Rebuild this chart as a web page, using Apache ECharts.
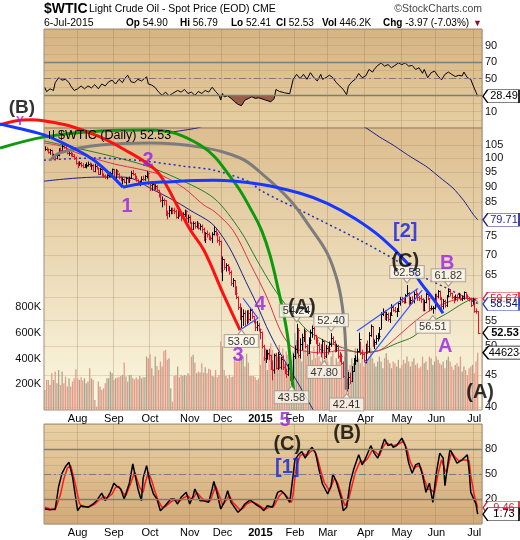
<!DOCTYPE html>
<html><head><meta charset="utf-8">
<script src="https://cdn.jsdelivr.net/npm/echarts/dist/echarts.min.js"></script>
<style>html,body{margin:0;padding:0;background:#fff}#c{width:520px;height:540px}</style>
</head><body><div id="c"></div>
<script>
// ---------------- DATA ----------------
const holidays = ['2014-09-01','2014-11-27','2014-12-25','2015-01-01','2015-01-19','2015-02-16','2015-04-03','2015-05-25','2015-07-03'];
const monthNames = ['Jan','Feb','Mar','Apr','May','Jun','Jul','Aug','Sep','Oct','Nov','Dec'];
const priceTicks = [40,45,50,55,60,65,70,75,80,85,90,95,100,105];

const closes = [
 103.53,103.40,102.29,102.93,100.83,100.91,99.96,101.20,103.19,103.13,104.59,104.42,103.12,102.07,102.09,101.67,100.97,100.27,98.17,
 97.88,98.29,97.38,96.92,97.34,97.65,98.08,97.37,97.59,95.58,97.35,96.41,94.48,96.07,93.96,93.65,93.35,93.86,93.88,94.55,95.96,
 92.88,95.54,94.45,93.29,92.29,92.75,91.67,92.83,92.27,92.92,94.88,94.42,93.07,92.41,91.52,91.56,92.80,92.53,93.54,94.57,91.16,
 90.73,91.01,89.74,90.34,88.85,87.31,85.77,85.82,85.74,81.84,81.78,82.70,82.75,82.71,82.49,80.52,82.09,81.01,81.00,81.42,82.20,80.12,80.54,
 78.78,77.19,78.68,77.91,78.65,77.40,77.94,77.18,74.21,75.82,75.64,74.61,74.58,75.58,76.51,75.78,74.09,73.69,66.15,
 69.00,66.88,67.38,66.81,65.84,63.05,63.82,60.94,59.95,57.81,55.91,55.93,56.47,54.11,56.52,55.26,57.12,55.84,54.73,53.61,54.12,53.27,
 52.69,50.04,47.93,48.65,48.79,48.36,46.07,45.89,48.48,46.25,48.69,46.39,47.78,46.31,45.59,45.15,46.23,44.45,44.53,48.24,
 49.57,53.05,48.45,50.48,51.69,52.86,50.02,48.84,51.21,52.78,53.53,52.14,51.16,50.34,49.45,49.28,50.99,48.17,49.76,
 49.59,50.52,51.53,50.76,49.61,50.00,48.29,48.17,47.05,44.84,43.88,43.46,44.66,43.96,45.72,47.45,47.51,49.21,51.43,48.87,48.68,47.60,
 50.09,49.14,52.14,53.98,50.42,50.79,51.64,51.91,53.29,56.39,56.71,55.74,56.38,55.26,56.16,57.74,57.15,56.99,56.99,58.58,59.63,
 59.15,58.93,60.40,60.93,58.94,59.39,59.25,60.75,60.50,59.88,59.69,59.43,57.26,58.98,60.72,59.72,57.51,57.51,57.68,60.30,
 60.20,61.26,59.64,58.00,59.13,58.14,60.14,61.43,60.77,59.96,59.52,59.97,59.92,60.45,59.61,59.68,61.01,60.27,59.70,59.63,58.33,59.47,
 56.96,56.93,52.53];
const highs = [
 104.3,104.0,103.5,103.3,103.0,101.5,101.2,101.6,103.6,103.8,105.0,104.9,104.5,103.3,102.6,102.3,101.9,101.3,100.4,
 98.6,98.7,98.5,98.0,97.7,98.3,98.6,98.3,97.9,97.7,97.8,97.5,96.5,96.3,96.2,94.4,94.0,94.1,94.5,95.0,96.1,
 96.0,95.9,95.7,94.5,93.6,93.0,92.6,93.1,93.2,93.3,95.3,95.6,94.5,93.6,92.4,92.0,93.4,93.6,93.8,95.2,94.8,
 91.5,91.2,91.0,90.7,90.4,88.9,88.0,86.7,86.1,85.5,82.3,83.8,83.2,83.2,83.2,82.6,82.4,82.0,81.5,81.8,82.6,82.4,81.1,
 80.9,79.0,79.1,79.0,79.2,78.8,78.4,78.2,77.3,76.0,76.5,75.9,75.1,76.0,77.8,76.9,76.0,74.8,73.7,
 69.5,68.9,67.8,67.6,67.0,66.0,64.2,63.7,62.3,60.0,58.5,57.6,57.2,57.0,57.0,57.1,57.5,57.3,55.8,55.0,54.8,54.4,
 53.3,52.7,50.2,49.3,49.3,49.5,48.4,47.4,48.6,48.7,48.9,48.2,48.0,48.3,46.9,46.0,46.8,46.1,45.1,48.6,
 50.1,54.24,53.4,51.4,52.3,53.3,53.0,50.3,51.6,53.1,53.9,53.6,52.1,51.5,50.6,50.3,51.3,51.0,50.2,
 50.0,50.8,52.4,51.8,51.0,50.4,50.2,48.9,48.6,47.2,45.0,44.4,45.4,45.3,46.4,47.8,48.3,49.5,52.5,50.8,49.3,48.7,
 50.4,51.0,52.6,54.1,53.8,51.2,52.0,52.4,53.6,56.6,57.4,57.0,56.7,56.5,56.6,58.3,58.0,57.7,57.5,58.7,59.9,
 59.9,59.5,60.5,62.58,61.0,59.9,60.0,61.1,61.7,60.8,60.1,60.3,59.6,59.3,60.8,60.8,59.6,58.0,57.9,60.6,
 60.6,61.4,61.3,59.9,59.4,59.3,60.3,61.82,61.6,60.8,60.1,60.4,60.4,60.8,60.6,60.2,61.1,61.0,60.4,59.9,59.7,59.7,
 59.2,57.4,56.79];
const lows = [
 103.0,102.8,101.9,101.5,100.6,99.9,99.4,99.8,100.9,102.6,103.0,103.7,102.8,101.6,101.1,100.8,100.6,99.6,97.8,
 96.6,97.3,96.9,96.6,96.8,96.5,97.2,97.0,96.0,95.3,95.2,96.1,94.2,94.3,93.7,93.2,92.9,92.7,93.4,93.5,94.3,
 92.5,92.8,94.0,92.7,92.0,91.0,91.4,90.9,91.4,91.5,92.8,94.0,92.6,91.9,90.9,90.4,91.2,92.2,92.2,93.0,90.8,
 88.8,88.9,89.2,89.2,88.5,86.7,85.2,83.6,84.2,81.0,80.0,80.6,81.5,81.6,81.5,80.2,80.1,80.7,79.4,80.3,80.7,79.6,79.0,
 78.6,75.8,76.9,77.3,77.4,77.0,76.8,76.0,73.8,73.3,74.8,74.1,73.9,73.3,75.4,75.3,73.4,72.6,65.7,
 63.7,66.4,66.0,66.1,65.2,62.6,62.3,60.5,59.6,57.3,55.2,53.6,54.0,53.8,54.3,54.6,55.0,55.4,54.5,53.0,53.0,52.9,
 51.4,49.7,47.5,47.1,47.7,47.6,45.9,44.2,45.3,46.0,45.9,46.1,46.0,45.9,45.2,44.6,44.9,44.1,43.58,44.3,
 47.8,48.8,48.0,47.9,49.4,50.9,49.7,48.3,48.7,50.5,51.7,51.3,50.5,48.6,49.0,48.1,48.9,47.8,48.0,
 48.6,49.1,50.0,50.4,49.0,49.1,47.9,47.3,46.8,44.6,43.5,42.41,42.8,43.6,43.9,45.6,46.8,47.3,49.0,48.5,47.8,47.2,
 47.05,48.7,49.0,51.9,50.0,49.6,50.4,51.0,51.4,53.4,56.0,55.2,55.0,54.9,54.6,56.1,56.9,56.7,55.8,56.9,58.2,
 58.8,58.6,58.7,60.2,58.2,58.4,58.6,58.7,60.1,59.2,59.2,58.8,57.0,57.0,58.7,59.4,57.0,57.2,56.51,57.4,
 59.1,59.8,59.4,57.5,57.4,57.8,57.9,60.0,60.2,59.6,58.7,59.3,59.1,59.8,59.3,59.2,59.5,59.9,59.5,59.1,57.9,58.4,
 56.7,56.5,52.41];
const volumesK = [
 156,234,234,195,286,234,299,208,312,195,299,208,260,182,247,182,221,247,317,
 247,234,255,229,247,208,221,325,247,234,78,26,221,182,156,169,208,247,247,299,286,
 234,247,252,255,265,273,369,260,221,273,273,247,239,255,239,265,247,255,255,416,403,
 434,325,265,416,343,312,377,338,460,468,390,403,169,65,265,273,338,255,273,265,273,265,286,
 265,416,429,369,286,299,291,364,291,332,286,320,314,265,260,312,255,273,532,
 494,312,265,247,273,255,260,421,377,377,442,395,416,338,437,369,265,265,265,255,234,247,
 351,532,416,481,312,429,519,468,338,442,416,506,416,481,364,455,429,338,390,455,
 597,545,494,416,377,558,468,416,506,442,390,494,403,468,416,377,481,390,442,
 377,338,416,455,351,403,377,429,338,377,416,442,312,351,403,364,481,416,403,364,416,338,
 377,390,416,481,403,364,338,377,416,377,325,403,442,390,364,325,377,364,338,390,325,
 351,390,364,416,377,338,377,403,351,364,325,338,416,364,377,312,416,403,351,377,
 416,390,364,351,377,325,390,416,377,338,312,351,364,338,416,299,338,312,273,325,338,351,
 286,377,446.234];

// RSI(14): [day index, value]
const rsiPts = [[0,39],[1,34],[3,37.5],[5,35.5],[6,45],[8,51],[10,48],[12,49],[14,45],[15,41],[17,35.5],[19,37.5],[21,41],[23,37.5],[25,41],[27,38.6],[29,42.5],[31,37.5],[33,43.3],[35,41],[37,46],[39,48],[41,43.3],[43,49],[45,45],[46,49],[48,54],[50,46],[52,45],[54,49],[56,47],[59,52],[60,43.3],[62,42],[64,39],[66,33.5],[68,29.6],[70,33.5],[72,29],[74,31.8],[75,29.6],[77,35.5],[79,33.5],[81,36.7],[83,31.8],[85,33.5],[87,29.6],[89,34.3],[91,31.8],[93,35.5],[95,33.5],[97,39.4],[99,34.3],[101,29.6],[102,23.8],[103,31.8],[104,27.8],[106,29],[108,25.9],[110,22],[112,18.7],[114,17.1],[116,23.8],[118,25.7],[120,27.8],[122,25.9],[124,26.6],[125,27.7],[128,23.8],[131,21.8],[133,25.7],[134,36.7],[136,34.3],[139,32.7],[142,31.5],[144,49],[146,55],[148,50],[150,55],[152,49],[154,57],[156,51],[158,47],[160,55],[161,49],[163,51],[165,54],[167,51],[169,45],[171,41],[173,36.7],[175,30.4],[176,40.6],[178,46],[180,49],[182,56],[184,51],[186,53],[188,61],[190,57.8],[191,61],[193,65.9],[195,68.8],[197,65],[199,66.9],[201,63],[203,65.9],[205,68.8],[207,66.9],[209,68.8],[211,65],[213,65.9],[215,61],[217,63],[219,56.3],[220,61],[222,51],[224,57],[226,59],[228,53],[230,48.4],[232,55],[234,57.8],[236,55],[238,52.4],[240,53.9],[242,53.1],[243,57.8],[245,51],[247,49],[248,43.3],[250,33.5],[251,28.49]];

// Slow stochastic
const stochK = [[0,8],[3,7],[6,8],[8,35],[10,51],[12,59],[14,64],[16,47],[19,6],[21,12],[25,10],[28,14],[30,18],[33,27],[35,18],[38,28],[40,39],[42,35],[44,32],[46,20],[49,39],[51,62],[54,32],[56,18],[57,45],[59,60],[61,39],[63,26],[65,20],[67,6],[69,10],[73,20],[75,20],[77,14],[79,22],[82,28],[84,14],[86,24],[87,32],[90,18],[92,18],[95,16],[97,32],[98,41],[100,26],[102,8],[104,16],[106,30],[108,16],[112,4],[114,8],[116,14],[119,19],[122,14],[125,10],[127,6],[129,12],[132,10],[135,28],[137,30],[139,26],[142,16],[143,14],[144,49],[145,67],[147,73],[149,77],[151,69],[153,78],[155,82],[157,75],[159,55],[161,38],[164,26],[166,36],[167,50],[169,41],[172,20],[173,6],[175,10],[177,39],[179,55],[182,73],[184,61],[186,69],[189,84],[191,75],[193,69],[195,80],[197,92],[199,84],[201,86],[202,82],[204,84],[207,93],[209,84],[211,63],[213,51],[215,61],[217,63],[219,49],[221,28],[223,39],[225,16],[227,51],[229,75],[231,69],[232,36],[234,67],[235,80],[237,71],[239,63],[242,67],[245,73],[246,55],[247,28],[250,14],[251,1.73]];
const stochD = [[0,10],[3,8],[6,7],[9,25],[11,44],[13,57],[15,60],[17,44],[20,15],[22,10],[26,11],[29,14],[31,18],[34,23],[36,21],[39,26],[41,34],[43,35],[45,28],[47,24],[50,40],[52,52],[55,34],[57,28],[58,38],[60,52],[62,42],[64,28],[66,17],[68,10],[70,11],[74,18],[76,19],[78,17],[80,21],[83,24],[85,19],[87,24],[88,28],[91,21],[93,18],[96,18],[98,30],[99,36],[101,25],[103,13],[105,18],[107,24],[109,16],[113,7],[115,9],[117,14],[120,17],[123,14],[126,10],[128,8],[130,10],[133,12],[136,24],[138,28],[140,24],[143,16],[144,26],[145,45],[146,60],[148,72],[150,74],[152,72],[154,77],[156,79],[158,70],[160,54],[162,40],[165,30],[167,40],[168,45],[170,38],[173,18],[174,12],[176,18],[178,35],[180,52],[183,66],[185,64],[187,68],[190,79],[192,76],[194,72],[196,82],[198,88],[200,85],[202,84],[205,86],[208,89],[210,80],[212,64],[214,56],[216,60],[218,58],[220,44],[222,32],[224,31],[226,28],[228,50],[230,67],[232,55],[233,52],[235,70],[236,76],[238,70],[240,66],[243,67],[246,66],[247,48],[249,25],[251,9.46]];

// overlay lines in [day index, price]
const redMA = [[-0.5,105.8],[9.4,104.6],[18.6,102.0],[38.4,98.2],[57.5,95.7],[67.4,94.0],[80.7,89.6],[92.3,84.1],[98.1,82.3],[109.1,76.7],[119,67.9],[128.8,59.9],[136.4,53.1],[142.2,50.2],[148,49.3],[161.3,48.8],[171.2,49.3],[184.5,48.9],[194.4,49.3],[204.3,51.8],[213.5,54.5],[223.4,57.1],[233.3,58.8],[242.5,59.7],[251,59.6]];
const greenMA = [[-0.5,106.6],[18.6,103.8],[38.4,100.8],[57.5,97.5],[76.6,92.9],[98.1,86.3],[113.2,76.7],[123,68.7],[132.3,62.2],[142.2,57.1],[152,53.1],[161.3,51.2],[171.2,49.9],[184.5,48.8],[194.4,49.3],[204.3,50.6],[213.5,51.8],[223.4,54.5],[233.3,56.5],[242.5,58.6],[248.3,59.5],[251.3,58.8]];
const dottedMA = [[-0.5,99.3],[28.5,100.1],[57.5,99.0],[80.7,97.1],[98.1,95.7],[119,91.6],[124.8,88.9],[153.8,81.1],[182.8,73.9],[201.9,69.1],[215.9,65.3],[233.3,61.9],[251,58.54]];
const navyArcA = [[74.3,110.2],[88.2,111.8],[100,114.5],[130,117.5],[160,117.5],[178,115],[186.3,111.8],[194,108.2],[201.9,105],[211,101],[221.7,96.8],[229,93.2],[236.7,89.6],[243,85.5],[248.3,81.4],[251,79.71]];
const navyArcB = [[-0.5,91.9],[32,93.3],[45.3,93.3],[63.3,88.9],[84.2,82.6],[100.4,76.7],[119,61.5],[132.3,51.2],[148,43.1],[155.5,39.6]];
const redArc = [[-26,113.1],[-17.3,114.7],[-8.6,115.2],[0.1,114.7],[14.6,112.6],[32,108.2],[46.5,103.1],[59.2,98.2],[66.8,94.0],[76.6,84.1],[84.2,76.9],[92.3,71.2],[103.3,60.8],[113.2,53.1]];
const greenArc = [[-26,103.8],[0.1,108.2],[32,110.6],[61,111.0],[90,105.0],[109.1,92.2],[120.7,81.7],[125.9,76.4],[130.6,69.9],[135.2,61.9],[140.5,52.5],[143.4,44.2],[144.5,42.3]];
const grayArc = [[3,99.3],[8.8,102.0],[32,105],[61,105.8],[90,104.2],[113.2,100.1],[124.8,95.0],[142.2,85.7],[153.8,77.6],[163.7,70.5],[169.5,63.8],[172.4,58.2],[174.1,52.1],[174.7,46.7],[174.7,42.6]];
const blueArc1 = [[-26,113.5],[-0.5,109.0],[18.6,103.1],[28.5,99.3],[38.4,94.0],[45.3,89.9]];
const blueArc2 = [[45.3,89.9],[57.5,91.2],[67.4,91.6],[98.1,92.2],[124.8,90.9],[148,87.9],[163.7,84.7],[180,80],[195.5,74.5],[210.1,68],[218,63.2],[225.1,59.6],[230.9,56.5]];
const blueThin = [
  [[114.9,59.7],[123.6,55.5],[113.2,53.1]],
  [[181,52.9],[216.4,61.9]],
  [[185.7,47.0],[218.8,61.5]]
];
const waveLabels = [
  ['(B)',-13.3,120.4,'#000',19],['2',59.8,99.3,'#9a1ee6',20],['1',47.6,83.8,'#9a1ee6',20],
  ['4',124.8,58.4,'#9a1ee6',20],['3',112.1,48.4,'#9a1ee6',20],['5',139.3,38.1,'#9a1ee6',20],
  ['(A)',149,57.8,'#000',20],['(C)',209,68.3,'#000',20],['[2]',209,76.4,'#1020e0',20],
  ['B',233.3,67.9,'#9a1ee6',20],['A',232.1,49.9,'#9a1ee6',20],['(A)',252.4,42.2,'#000',20],
  ['Y',-14.4,114.4,'#9a1ee6',12]
];
const stochLabels = [['(C)',140.6,86,'#000',20],['[1]',140.6,58.4,'#1020e0',20],['(B)',175.3,99,'#000',20]];
const callouts = [[210,62.58,'top'],[234,61.82,'top'],[225,56.51,'bottom'],[146,54.24,'top'],[166,52.40,'top'],[162,47.80,'bottom'],[143,43.58,'bottom'],[175,42.41,'bottom'],[114,53.60,'bottom']];

// ---------------- BUILD ----------------
const dates = [];
for (let d = new Date(Date.UTC(2014,6,7)); d <= new Date(Date.UTC(2015,6,6)); d.setUTCDate(d.getUTCDate()+1)) {
  const wd = d.getUTCDay(); if (wd === 0 || wd === 6) continue;
  const s = d.toISOString().slice(0,10); if (holidays.includes(s)) continue;
  dates.push(s);
}
const cats = dates.concat(['', '']);
const N = cats.length;
const monthStart = new Set();
for (let i = 1; i < dates.length; i++) if (dates[i].slice(0,7) !== dates[i-1].slice(0,7)) monthStart.add(i);
const isMS = (i) => monthStart.has(i);
const monthFmt = (v) => { if (!v) return ''; const m = +v.slice(5,7); return m === 1 ? '{b|' + v.slice(0,4) + '}' : monthNames[m-1]; };

// layout constants
const G = {left: 44, width: 438};
const MAIN = {top: 128, height: 282, pmin: 39.55, pmax: 111.8};
const ANN = {top: 100, height: 340};
const bandPx = G.width / N;
const lnPerPx = Math.log(MAIN.pmax / MAIN.pmin) / MAIN.height;
const annXmin = -0.5 - G.left / bandPx;
const annPmax = MAIN.pmax * Math.exp((MAIN.top - ANN.top) * lnPerPx);
const annPmin = MAIN.pmin * Math.exp(-((ANN.top + ANN.height) - (MAIN.top + MAIN.height)) * lnPerPx);

const FONT = 'Liberation Sans, Arial, sans-serif';
const faint = {lineStyle: {color: 'rgba(150,120,80,0.22)', width: 1}};
const vgrad = (a, b) => ({type: 'linear', x: 0, y: 0, x2: 0, y2: 1, colorStops: [{offset: 0, color: a}, {offset: 1, color: b}]});
const tagPath = 'path://M0,6 L6,0 L46,0 L46,12 L6,12 Z';
function tag(x, y, text, border, color, w, bold) {
  return {value: [x, y], symbol: tagPath, symbolSize: [w, 13], symbolOffset: [w/2 + 1, 0],
    itemStyle: {color: '#fff', borderColor: border, borderWidth: 1, opacity: 1},
    label: {show: true, position: 'inside', formatter: text, color: color, fontSize: 11, fontFamily: FONT, fontWeight: bold ? 'bold' : 'normal', offset: [3, 0]}};
}
const XR = N - 0.5;

const catAxis = (gi, labels) => ({type: 'category', gridIndex: gi, data: cats, boundaryGap: true,
  axisLine: {show: false}, axisTick: {show: false},
  axisLabel: {show: labels, interval: isMS, formatter: monthFmt, fontSize: 11, fontFamily: FONT, color: '#000', margin: 3, rich: {b: {fontWeight: 'bold', fontSize: 11, fontFamily: FONT}}},
  splitLine: {show: true, interval: isMS, lineStyle: {color: 'rgba(150,120,80,0.3)', width: 1}}});
const valAxis = (gi) => ({type: 'value', gridIndex: gi, min: -0.5, max: XR, show: false});

const lineS = (data, color, width, opts) => Object.assign({type: 'line', xAxisIndex: 4, yAxisIndex: 1, data: data, showSymbol: false, symbol: 'none',
  lineStyle: {color: color, width: width}, silent: true, animation: false}, opts || {});
const annLine = (data, color, width, smooth) => lineS(data, color, width, {xAxisIndex: 6, yAxisIndex: 4, smooth: smooth, clip: false, z: 6});

const series = [];
// volume
series.push({type: 'bar', xAxisIndex: 4, yAxisIndex: 2, barWidth: 1.3, silent: true, z: 1,
  data: volumesK.map((v, i) => ({value: [i, v * 1000], itemStyle: {color: (i > 0 && closes[i] < closes[i-1]) ? '#e59a88' : '#aca48d'}}))});
// MAs / thin curves
series.push(lineS(navyArcB, '#1b1f8a', 1, {smooth: 0.4, z: 3}));
series.push(lineS(navyArcA, '#1b1f8a', 1, {smooth: 0.2, z: 3}));
series.push(lineS(greenMA, '#2a7a2a', 1, {smooth: 0.3, z: 3}));
series.push(lineS(redMA, '#e0304a', 1, {smooth: 0.3, z: 3}));
series.push(lineS(dottedMA, '#2030b8', 1.5, {smooth: 0.3, z: 3, lineStyle: {color: '#2030b8', width: 1.5, type: [2, 3]}}));
// OHLC bars
series.push({type: 'custom', xAxisIndex: 4, yAxisIndex: 1, z: 4, silent: true,
  data: closes.map((c, i) => [i, lows[i], highs[i], c]),
  encode: {x: 0, y: [1, 2, 3]},
  renderItem: function (params, api) {
    const i = api.value(0);
    const lo = api.coord([i, api.value(1)]), hi = api.coord([i, api.value(2)]), cl = api.coord([i, api.value(3)]);
    const up = i === 0 || closes[i] >= closes[i-1];
    const col = up ? '#000' : '#e4102c';
    const x = Math.round(lo[0]) + 0.5, yc = Math.round(cl[1]) + 0.5;
    return {type: 'group', children: [
      {type: 'line', shape: {x1: x, y1: hi[1] - 0.5, x2: x, y2: lo[1] + 0.5}, style: {stroke: col, lineWidth: 1}},
      {type: 'line', shape: {x1: x, y1: yc, x2: x + 2, y2: yc}, style: {stroke: col, lineWidth: 1}}
    ]};
  }});
// annotation arcs (on a wider overlay grid with the same scales)
series.push(annLine(grayArc, '#7c7c7c', 3, 0.4));
series.push(annLine(greenArc, '#0c9a0c', 3, 0.4));
series.push(annLine(redArc, '#ff1010', 3, 0.4));
series.push(annLine(blueArc1, '#1638ff', 3, 0.2));
series.push(annLine(blueArc2, '#1638ff', 3, 0.4));
blueThin.forEach(l => series.push(lineS(l, '#3355ff', 1.2, {z: 6})));
// callout pointers + boxes
series.push({type: 'scatter', xAxisIndex: 4, yAxisIndex: 1, clip: false, silent: true, z: 8,
  data: callouts.map(c => ({value: [c[0], c[1]], symbol: 'triangle', symbolSize: [8, 5], symbolRotate: c[2] === 'top' ? 180 : 0,
    symbolOffset: [0, c[2] === 'top' ? -5 : 5], itemStyle: {color: '#fbf9f0', borderColor: '#a8998a', borderWidth: 1, opacity: 1}}))});
series.push({type: 'scatter', xAxisIndex: 4, yAxisIndex: 1, symbolSize: 1, itemStyle: {color: 'transparent'}, clip: false, silent: true, z: 9,
  data: callouts.map(c => ({value: [c[0], c[1]], label: {show: true, position: c[2], distance: 7, formatter: c[1].toFixed(2),
    color: '#000', fontSize: 11, fontFamily: FONT, backgroundColor: '#fbf9f0', borderColor: '#a8998a', borderWidth: 1, padding: [1, 3, 0, 3]}}))});
// wave labels
const labelSeries = (arr, xi, yi) => ({type: 'scatter', xAxisIndex: xi, yAxisIndex: yi, symbolSize: 1, itemStyle: {color: 'transparent'}, clip: false, silent: true, z: 9,
  data: arr.map(w => ({value: [w[1], w[2]], label: {show: true, position: 'inside', formatter: w[0], color: w[3], fontSize: w[4], fontWeight: 'bold', fontFamily: FONT}}))});
series.push(labelSeries(waveLabels, 6, 4));
series.push(labelSeries(stochLabels, 5, 3));
// right tags main
series.push({type: 'scatter', xAxisIndex: 4, yAxisIndex: 1, clip: false, silent: true, z: 10,
  data: [tag(XR, 59.6, '59.67', '#e02030', '#e02030', 36), tag(XR, 79.71, '79.71', '#1b1f8a', '#1b1f8a', 36),
         tag(XR, 58.45, '58.54', '#2040c0', '#102060', 36), tag(XR, 52.53, '52.53', '#000', '#000', 38, true)]});
series.push({type: 'scatter', xAxisIndex: 4, yAxisIndex: 2, clip: false, silent: true, z: 10,
  data: [tag(XR, 446234, '446234', '#000', '#000', 42)]});
// RSI
const RSI = {min: -10, max: 110, top: 29, height: 99};
const f30 = (RSI.max - 30) / (RSI.max - RSI.min);
series.push({type: 'line', xAxisIndex: 3, yAxisIndex: 0, data: rsiPts, showSymbol: false, symbol: 'none', silent: true,
  lineStyle: {width: 0, opacity: 0}, z: 2,
  areaStyle: {origin: 30, opacity: 1, color: {type: 'linear', global: true, x: 0, y: RSI.top, x2: 0, y2: RSI.top + RSI.height,
    colorStops: [{offset: 0, color: 'rgba(155,92,69,0)'}, {offset: f30, color: 'rgba(155,92,69,0)'}, {offset: f30, color: '#9b5c45'}, {offset: 1, color: '#9b5c45'}]}}});
series.push({type: 'line', xAxisIndex: 3, yAxisIndex: 0, data: rsiPts, showSymbol: false, symbol: 'none', silent: true,
  lineStyle: {color: '#000', width: 1}, z: 3,
  markLine: {silent: true, symbol: 'none', label: {show: false}, data: [
    {yAxis: 70, lineStyle: {color: '#7c7c7c', width: 1.3, type: 'solid'}},
    {yAxis: 30, lineStyle: {color: '#7c7c7c', width: 1.3, type: 'solid'}},
    {yAxis: 50, lineStyle: {color: '#7c7c7c', width: 1, type: [7, 3, 2, 3]}}]}});
series.push({type: 'scatter', xAxisIndex: 3, yAxisIndex: 0, clip: false, silent: true, z: 10, data: [tag(XR, 28.49, '28.49', '#000', '#000', 36)]});
// Stochastic
series.push({type: 'line', xAxisIndex: 5, yAxisIndex: 3, data: stochD, showSymbol: false, symbol: 'none', silent: true,
  lineStyle: {color: '#ff1a1a', width: 1.5}, z: 3,
  markLine: {silent: true, symbol: 'none', label: {show: false}, data: [
    {yAxis: 80, lineStyle: {color: '#7c7c7c', width: 1.3, type: 'solid'}},
    {yAxis: 20, lineStyle: {color: '#7c7c7c', width: 1.3, type: 'solid'}},
    {yAxis: 50, lineStyle: {color: '#7c7c7c', width: 1, type: [7, 3, 2, 3]}}]}});
series.push({type: 'line', xAxisIndex: 5, yAxisIndex: 3, data: stochK, showSymbol: false, symbol: 'none', silent: true,
  lineStyle: {color: '#000', width: 1.5}, z: 4});
series.push({type: 'scatter', xAxisIndex: 5, yAxisIndex: 3, clip: false, silent: true, z: 10,
  data: [tag(XR, 9.46, '9.46', '#e02030', '#e02030', 36), tag(XR, 1.73, '1.73', '#000', '#000', 36)]});

const ylab = {fontSize: 11, fontFamily: FONT, color: '#111', margin: 3};
const hdr = (left, top, text, size, bold, fill) => ({type: 'text', left: left, top: top, z: 20,
  style: {text: text, font: (bold ? 'bold ' : '') + size + 'px ' + FONT, fill: fill || '#000', rich: {b: {font: 'bold ' + size + 'px ' + FONT, fill: '#000'}}}});
const option = {
  animation: false,
  backgroundColor: '#fff',
  grid: [
    {left: G.left, top: RSI.top, width: G.width, height: RSI.height, show: true, backgroundColor: vgrad('#d6b383', '#e7cfa1'), borderColor: '#a48d78', borderWidth: 1},
    {left: G.left, top: MAIN.top, width: G.width, height: MAIN.height, show: true, backgroundColor: vgrad('#dcbd8e', '#fcf9e3'), borderColor: '#a48d78', borderWidth: 1},
    {left: G.left, top: 424, width: G.width, height: 100, show: true, backgroundColor: vgrad('#e8d1a3', '#d3a979'), borderColor: '#a48d78', borderWidth: 1},
    {left: 0, top: ANN.top, width: G.left + G.width, height: ANN.height, show: false}
  ],
  xAxis: [catAxis(0, false), catAxis(1, true), catAxis(2, true), valAxis(0), valAxis(1), valAxis(2),
    {type: 'value', gridIndex: 3, min: annXmin, max: XR, show: false}],
  yAxis: [
    {type: 'value', gridIndex: 0, min: RSI.min, max: RSI.max, interval: 10, position: 'right', axisLine: {show: false}, axisTick: {show: false},
     axisLabel: Object.assign({formatter: v => [10, 30, 50, 70, 90].includes(v) ? String(v) : ''}, ylab), splitLine: faint},
    {type: 'log', gridIndex: 1, min: MAIN.pmin, max: MAIN.pmax, position: 'right', axisLine: {show: false},
     axisTick: {show: false, customValues: priceTicks}, axisLabel: Object.assign({customValues: priceTicks}, ylab), splitLine: faint},
    {type: 'value', gridIndex: 1, min: 0, max: 2194000, interval: 200000, position: 'left', axisLine: {show: false}, axisTick: {show: false},
     axisLabel: Object.assign({formatter: v => (v >= 200000 && v <= 800000) ? (v / 1000) + 'K' : ''}, ylab), splitLine: {show: false}},
    {type: 'value', gridIndex: 2, min: -10, max: 110, interval: 10, position: 'right', axisLine: {show: false}, axisTick: {show: false},
     axisLabel: Object.assign({formatter: v => [20, 50, 80].includes(v) ? String(v) : ''}, ylab), splitLine: faint},
    {type: 'log', gridIndex: 3, min: annPmin, max: annPmax, show: false}
  ],
  graphic: [
    hdr(44, 2, '$WTIC', 14, true),
    hdr(89, 4, 'Light Crude Oil - Spot Price (EOD) CME', 10.5, false),
    {type: 'text', right: 38, top: 4, z: 20, style: {text: '\u00A9StockCharts.com', font: '10.5px ' + FONT, fill: '#444'}},
    hdr(44, 18, '6-Jul-2015', 10.5, false),
    hdr(126, 18, '{b|Op} 54.90', 10, false),
    hdr(180, 18, '{b|Hi} 56.79', 10, false),
    hdr(231, 18, '{b|Lo} 52.41', 10, false),
    hdr(276, 18, '{b|Cl} 52.53', 10, false),
    hdr(322, 18, '{b|Vol} 446.2K', 10, false),
    hdr(383, 18, '{b|Chg} -3.97 (-7.03%)', 10, false),
    hdr(473, 19, '\u25BC', 9, false, '#8a1030'),
    hdr(58, 129, '$WTIC (Daily) 52.53', 12.5, false),
    {type: 'line', z: 20, shape: {x1: 49.5, y1: 131, x2: 49.5, y2: 139}, style: {stroke: '#000', lineWidth: 1}},
    {type: 'line', z: 20, shape: {x1: 53.5, y1: 130, x2: 53.5, y2: 138}, style: {stroke: '#000', lineWidth: 1}}
  ],
  series: series
};
const chart = echarts.init(document.getElementById('c'), null, {renderer: 'canvas'});
chart.setOption(option);
</script></body></html>
